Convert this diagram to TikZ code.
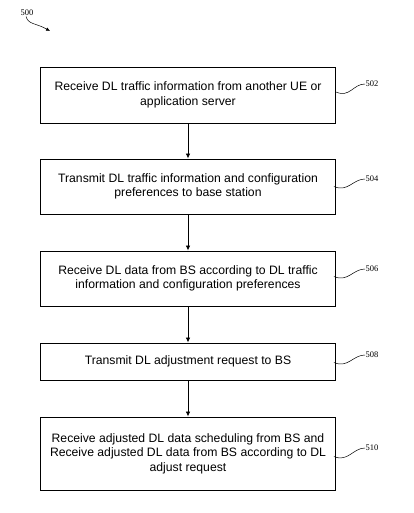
\documentclass[tikz,border=0pt]{standalone}
\usepackage{fontspec}
\setmainfont{Liberation Sans}
\newfontfamily\reffont{Liberation Serif}
\usetikzlibrary{arrows.meta}
\tikzset{
	stepbox/.style={draw, line width=0.9pt, minimum width=295pt, align=center, inner sep=2pt, font=\fontsize{12.2}{14.5}\selectfont},
	reflabel/.style={anchor=west, inner sep=0.5pt, font=\reffont\fontsize{8.5}{10}\selectfont},
	flow/.style={line width=0.8pt, -{Latex[length=5pt,width=4.5pt]}},
	squig/.style={line width=0.5pt}
}
\begin{document}
\begin{tikzpicture}[x=1pt,y=-1pt]
	\useasboundingbox (0,0) rectangle (414,513);
	% figure number
	\node[reflabel] (n500) at (20,13) {500};
	\coordinate (p500) at (50,31);
	\draw[squig, -{Latex[length=4pt,width=3.5pt]}] ([xshift=-1pt]n500.south) .. controls +(2,8) and +(-14,-8) .. (p500);
	% steps
	\node[stepbox, minimum height=56pt] (s502) at (188,95) {Receive DL traffic information from another UE or\\application server};
	\node[stepbox, minimum height=55pt] (s504) at (188,186.5) {Transmit DL traffic information and configuration\\preferences to base station};
	\node[stepbox, minimum height=55pt] (s506) at (188,278.5) {Receive DL data from BS according to DL traffic\\information and configuration preferences};
	\node[stepbox, minimum height=37pt] (s508) at (188,361.5) {Transmit DL adjustment request to BS};
	\node[stepbox, minimum height=73pt] (s510) at (188,453.5) {Receive adjusted DL data scheduling from BS and\\Receive adjusted DL data from BS according to DL\\adjust request};
	\draw[flow] (s502) -- (s504);
	\draw[flow] (s504) -- (s506);
	\draw[flow] (s506) -- (s508);
	\draw[flow] (s508) -- (s510);
	% reference numerals
	\node[reflabel] (l502) at (365,84) {502};
	\node[reflabel] (l504) at (365,179) {504};
	\node[reflabel] (l506) at (365,269) {506};
	\node[reflabel] (l508) at (365,355) {508};
	\node[reflabel] (l510) at (365,448) {510};
	\draw[squig] ([yshift=3pt]s502.east) .. controls +(14,6) and +(-12,0) .. (l502.west);
	\draw[squig] ([xshift=-2pt,yshift=0pt]s504.east) .. controls +(14,6) and +(-12,0) .. (l504.west);
	\draw[squig] ([xshift=-2pt,yshift=2pt]s506.east) .. controls +(14,6) and +(-12,0) .. (l506.west);
	\draw[squig] ([xshift=-2pt,yshift=-1pt]s508.east) .. controls +(14,6) and +(-12,0) .. (l508.west);
	\draw[squig] ([xshift=-2pt,yshift=-3pt]s510.east) .. controls +(14,6) and +(-12,0) .. (l510.west);
\end{tikzpicture}
\end{document}
